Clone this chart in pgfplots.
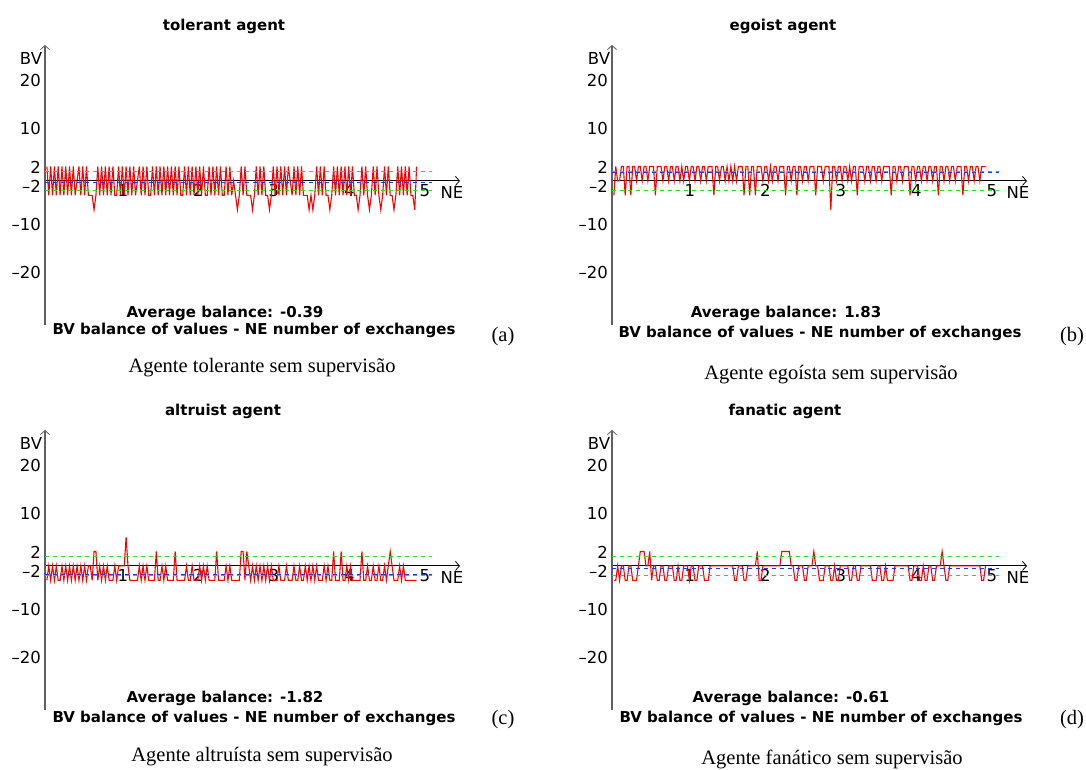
\documentclass[border=0pt]{standalone}
\usepackage{fontspec}
\setmainfont{Liberation Serif}
\newfontfamily\dvs{DejaVu Sans}
\usepackage{pgfplots}
\pgfplotsset{compat=1.18}
\usetikzlibrary{arrows.meta}

\definecolor{gline}{HTML}{22DD22}
\definecolor{bline}{HTML}{1A3AE0}
\definecolor{yaxc}{HTML}{606060}

\pgfplotsset{
  agent/.style={
    scale only axis, width=415pt, height=280pt,
    xmin=0, xmax=220, ymin=-30, ymax=28.3,
    axis lines=middle,
    x axis line style={black, line width=1pt, -{Straight Barb[length=4pt,width=9pt,line width=0.8pt]}},
    y axis line style={yaxc, line width=1.4pt, -{Straight Barb[length=4pt,width=9pt,line width=0.8pt]}},
    xtick={40,80,120,160,200}, xticklabels={1,2,3,4,5},
    ytick={20,10,2,-2,-10,-20}, yticklabels={20,10,2,–2,–10,–20},
    major tick length=0pt,
    tick label style={font=\dvs\fontsize{16.5}{19}\selectfont, black},
    xticklabel style={xshift=2.5pt, inner sep=3pt},
    yticklabel style={yshift=4pt, inner sep=4pt},
    anchor=south west,
    clip=false,
  },
  redline/.style={red, line width=1.1pt, mark=none},
  gdash/.style={gline, line width=1pt, dash pattern=on 4pt off 4pt, mark=none},
  bdash/.style={bline, line width=1pt, dash pattern=on 4pt off 4pt, mark=none},
}
\newcommand{\sans}{\dvs\fontsize{16.5}{19}\selectfont}
\newcommand{\sansb}{\dvs\bfseries\fontsize{15}{18}\selectfont}
\newcommand{\capf}{\fontsize{20.5}{24}\selectfont}

\begin{document}
\begin{tikzpicture}
\useasboundingbox (0pt,0pt) rectangle (1086pt,-769pt);

% (a) tolerant
\begin{axis}[agent, at={(45pt,-325pt)}]
\addplot[redline] coordinates {
(1,3)(2,-3)(3,3)(4,-3)(5,3)(6,-3)(7,3)(8,-3)(9,3)(10,-3)
(11,3)(12,-3)(13,3)(14,-3)(15,3)(16,-3)(17,0)(18,3)(19,-3)(20,3)
(21,-3)(22,3)(23,-3)(24,-3)(25,-3)(26,-6)(27,-3)(28,3)(29,-3)(30,3)
(31,-3)(32,3)(33,-3)(34,3)(35,-3)(36,3)(37,-3)(38,-3)(39,3)(40,-3)
(41,3)(42,-3)(43,3)(44,-3)(45,3)(46,-3)(47,3)(48,-3)(49,0)(50,3)
(51,-3)(52,3)(53,-3)(54,3)(55,-3)(56,-3)(57,3)(58,-3)(59,3)(60,-3)
(61,3)(62,-3)(63,3)(64,-3)(65,3)(66,-3)(67,3)(68,-3)(69,3)(70,-3)
(71,3)(72,-3)(73,-3)(74,3)(75,-3)(76,3)(77,-3)(78,3)(79,-3)(80,3)
(81,-3)(82,3)(83,-3)(84,3)(85,-3)(86,-3)(87,3)(88,-3)(89,3)(90,-3)
(91,3)(92,-3)(93,3)(94,-3)(95,-3)(96,3)(97,-3)(98,3)(99,-3)(100,0)
(101,-3)(102,-6)(103,-3)(104,3)(105,-3)(106,3)(107,-3)(108,-3)(109,-3)(110,-6)
(111,-3)(112,3)(113,-3)(114,3)(115,-3)(116,3)(117,-3)(118,-3)(119,-6)(120,-3)
(121,3)(122,-3)(123,3)(124,-3)(125,3)(126,-3)(127,3)(128,-3)(129,3)(130,0)
(131,-3)(132,3)(133,-3)(134,3)(135,-3)(136,3)(137,-3)(138,-3)(139,-3)(140,-6)
(141,-3)(142,-6)(143,-3)(144,3)(145,-3)(146,3)(147,-3)(148,3)(149,-3)(150,-3)
(151,-6)(152,-3)(153,3)(154,-3)(155,3)(156,-3)(157,3)(158,-3)(159,3)(160,-3)
(161,3)(162,-3)(163,3)(164,-3)(165,-3)(166,-6)(167,-3)(168,3)(169,-3)(170,3)
(171,-3)(172,-6)(173,-3)(174,3)(175,-3)(176,3)(177,-3)(178,-6)(179,-3)(180,3)
(181,-3)(182,3)(183,-3)(184,-3)(185,-6)(186,-3)(187,3)(188,-3)(189,3)(190,-3)
(191,3)(192,-3)(193,3)(194,-3)(195,-3)(196,-6)(197,3)
};
\addplot[gdash] coordinates {(0,2)(205,2)};
\addplot[gdash] coordinates {(0,-2)(205,-2)};
\addplot[bdash] coordinates {(0,-0.39)(205,-0.39)};
\end{axis}

% (b) egoist
\begin{axis}[agent, at={(612pt,-325pt)}]
\addplot[redline] coordinates {
(1,-3)(2,3)(3,0)(4,0)(5,3)(6,3)(7,-3)(8,3)(9,3)(10,-3)(11,3)(12,3)(13,0)(14,3)(15,3)(16,0)(17,3)(18,3)(19,0)(20,3)(22,3)(23,-3)(24,3)(26,3)(27,0)(28,3)(29,3)(30,0)
(31,3)(32,3)(33,0)(34,3)(35,3)(36,0)(37,3)(38,0)(39,3)(40,3)(41,0)(42,3)(43,3)(44,0)(45,3)(46,3)(47,0)(48,3)(49,3)(50,0)(51,3)(53,3)(54,-3)(55,3)(56,3)(57,0)(58,3)(59,3)(60,0)
(61,3)(62,0)(63,3)(64,0)(65,3)(66,0)(67,3)(69,3)(70,-3)(71,3)(72,3)(73,-3)(74,3)(75,3)(76,-3)(77,3)(79,3)(80,0)(81,3)(82,3)(83,0)(84,3)(85,0)(86,3)(87,3)(88,0)(89,3)(91,3)(92,-3)
(93,3)(94,3)(95,0)(96,3)(97,3)(98,-3)(99,3)(100,3)(101,0)(102,3)(103,3)(104,0)(105,3)(107,3)(108,-3)(109,3)(111,3)(112,0)(113,3)(115,3)(116,-6)(117,3)(118,3)(119,0)(120,3)
(121,3)(122,0)(123,3)(124,3)(125,0)(126,3)(127,0)(128,3)(129,3)(130,-3)(131,3)(133,3)(134,0)(135,3)(136,3)(137,0)(138,3)(139,3)(140,0)(141,3)(142,3)(143,0)(144,3)(147,3)(148,-3)
(149,3)(150,3)(151,0)(152,3)(153,3)(154,0)(155,3)(157,3)(158,-3)(159,3)(160,3)(161,0)(162,3)(163,3)(164,0)(165,3)(166,3)(167,0)(168,3)(169,3)(170,0)(171,3)(172,3)(173,-3)(174,3)
(175,3)(176,0)(177,3)(178,3)(179,0)(180,3)(181,3)(182,0)(183,3)(185,3)(186,-3)(187,3)(188,3)(189,0)(190,3)(191,3)(192,0)(193,3)(194,3)(195,0)(196,3)(198,3)
};
\addplot[gdash] coordinates {(0,2)(205,2)};
\addplot[gdash] coordinates {(0,-2)(205,-2)};
\addplot[bdash] coordinates {(0,1.83)(205,1.83)};
\end{axis}

% (c) altruist
\begin{axis}[agent, at={(45pt,-710pt)}]
\addplot[redline] coordinates {
(1,-3)(2,0)(3,-3)(4,0)(5,-3)(6,0)(7,-3)(8,-3)(9,0)(10,-3)(11,0)(12,-3)(13,0)(14,-3)(15,0)(16,-3)(17,0)(18,-3)(19,0)(20,-3)(21,0)(22,-3)(23,0)(24,0)(25,-3)(26,3)(27,3)(28,-3)(29,0)(30,-3)
(31,0)(32,-3)(33,0)(34,-3)(36,-3)(37,0)(38,-3)(39,0)(42,0)(43,6)(44,0)(45,-3)(49,-3)(50,0)(51,-3)(52,0)(53,-3)(54,0)(55,-3)(58,-3)(59,3)(60,-3)(61,-3)(62,0)(63,-3)(64,0)(65,-3)(68,-3)(69,3)(70,-3)
(74,-3)(75,0)(76,-3)(77,-3)(78,0)(79,-3)(81,-3)(82,0)(83,-3)(84,0)(85,-3)(86,0)(87,-3)(90,-3)(91,3)(92,-3)(95,-3)(96,0)(97,-3)(98,0)(99,-3)(103,-3)(104,3)(105,3)(106,-3)(107,3)(108,0)(109,-3)(110,0)
(111,-3)(112,0)(113,-3)(114,0)(115,-3)(116,0)(117,-3)(118,0)(119,-3)(120,0)(121,-3)(123,-3)(124,0)(125,-3)(127,-3)(128,0)(129,-3)(131,-3)(132,0)(133,-3)(134,-3)(135,0)(136,-3)(137,-3)(138,0)(139,-3)(140,0)
(141,-3)(142,0)(143,-3)(144,0)(145,-3)(147,-3)(148,0)(149,-3)(150,0)(151,-3)(152,-3)(153,3)(154,-3)(156,-3)(157,3)(158,-3)(159,-3)(160,0)(161,-3)(162,0)(163,-3)(167,-3)(168,3)(169,-3)(170,-3)(171,0)
(172,-3)(173,-3)(174,0)(175,-3)(176,-3)(177,0)(178,-3)(179,-3)(180,0)(181,-3)(182,0)(183,3)(184,0)(185,-3)(187,-3)(188,0)(189,-3)(190,0)(191,-3)(197,-3)
};
\addplot[gdash] coordinates {(0,2)(205,2)};
\addplot[gdash] coordinates {(0,-2)(205,-2)};
\addplot[bdash] coordinates {(0,-1.82)(205,-1.82)};
\end{axis}

% (d) fanatic
\begin{axis}[agent, at={(612pt,-710pt)}]
\addplot[redline] coordinates {
(1,-3)(2,-3)(3,0)(4,-3)(5,0)(6,0)(7,-3)(8,-3)(9,0)(10,0)(11,-3)(13,-3)(14,0)(15,3)(17,3)(18,0)(19,0)(20,3)(21,-3)(22,0)(23,0)(24,-3)(25,-3)(26,0)(27,0)(28,-3)(29,-3)(30,0)(32,0)
(33,-3)(34,-3)(35,0)(36,-3)(37,-3)(38,0)(40,0)(41,-3)(42,0)(43,0)(44,-3)(45,-3)(46,0)(48,0)(49,-3)(51,-3)(52,0)(64,0)(65,-3)(66,-3)(67,0)(69,0)(70,-3)(71,-3)(72,0)(76,0)(77,3)(78,-3)(79,-3)(80,0)
(89,0)(90,3)(94,3)(95,0)(96,0)(97,-3)(98,-3)(99,0)(101,0)(102,-3)(103,-3)(104,0)(106,0)(107,3)(108,0)(109,0)(110,-3)(112,-3)(113,0)(115,0)(116,-3)(117,-3)(118,0)(119,-3)(120,-3)(121,0)(125,0)
(126,-3)(127,-3)(128,0)(129,0)(130,-3)(131,-3)(132,0)(137,0)(138,-3)(140,-3)(141,0)(142,0)(143,-3)(144,-3)(145,0)(146,-3)(149,-3)(150,0)(157,0)(158,-3)(159,-3)(160,0)(162,0)(163,-3)(164,-3)(165,0)
(166,-3)(167,-3)(168,0)(169,0)(170,-3)(171,-3)(172,0)(174,0)(175,3)(176,0)(177,-3)(178,-3)(179,0)(195,0)(196,-3)(197,-3)(198,0)
};
\addplot[gdash] coordinates {(0,2)(205,2)};
\addplot[gdash] coordinates {(0,-2)(205,-2)};
\addplot[bdash] coordinates {(0,-0.61)(205,-0.61)};
\end{axis}

% titles
\node[font=\sansb] at (224pt,-26pt) {tolerant agent};
\node[font=\sansb] at (783pt,-26pt) {egoist agent};
\node[font=\sansb] at (223pt,-411pt) {altruist agent};
\node[font=\sansb] at (785pt,-411pt) {fanatic agent};
% axis names
\node[font=\sans] at (31pt,-58pt) {BV};
\node[font=\sans] at (599pt,-58pt) {BV};
\node[font=\sans] at (31pt,-443pt) {BV};
\node[font=\sans] at (599pt,-443pt) {BV};
\node[font=\sans] at (452pt,-192pt) {NE};
\node[font=\sans] at (1018pt,-192pt) {NE};
\node[font=\sans] at (452pt,-577pt) {NE};
\node[font=\sans] at (1018pt,-577pt) {NE};
% averages
\node[font=\sansb] at (225pt,-313pt) {Average balance: -0.39};
\node[font=\sansb] at (786pt,-313pt) {Average balance: 1.83};
\node[font=\sansb] at (225pt,-698pt) {Average balance: -1.82};
\node[font=\sansb] at (791pt,-698pt) {Average balance: -0.61};
\node[font=\sansb] at (254pt,-330pt) {BV balance of values - NE number of exchanges};
\node[font=\sansb] at (820pt,-333pt) {BV balance of values - NE number of exchanges};
\node[font=\sansb] at (254pt,-718pt) {BV balance of values - NE number of exchanges};
\node[font=\sansb] at (821pt,-718pt) {BV balance of values - NE number of exchanges};
% sub labels
\node[font=\capf] at (503pt,-337pt) {(a)};
\node[font=\capf] at (1072pt,-337pt) {(b)};
\node[font=\capf] at (503pt,-720pt) {(c)};
\node[font=\capf] at (1072pt,-720pt) {(d)};
% captions
\node[font=\capf] at (262pt,-368pt) {Agente tolerante sem supervisão};
\node[font=\capf] at (831pt,-375pt) {Agente egoísta sem supervisão};
\node[font=\capf] at (262pt,-757pt) {Agente altruísta sem supervisão};
\node[font=\capf] at (832pt,-759pt) {Agente fanático sem supervisão};
\end{tikzpicture}
\end{document}
